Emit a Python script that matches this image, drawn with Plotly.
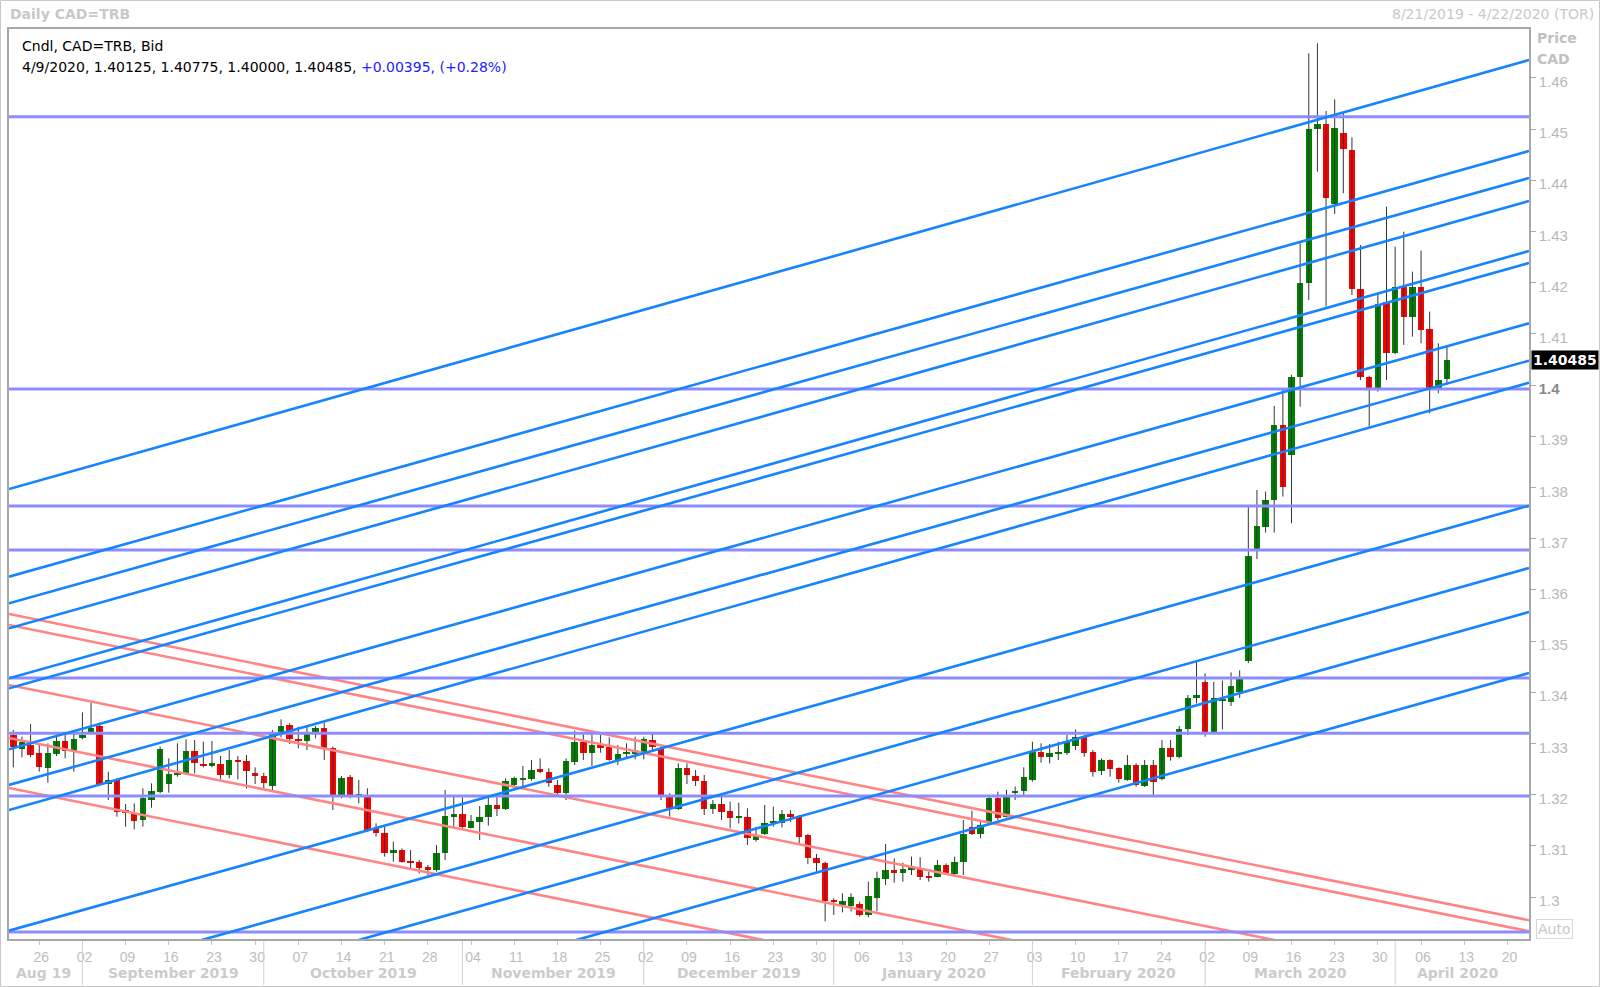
import pandas as pd
import plotly.graph_objects as go

# ---------------- data ----------------
trade_dates = pd.bdate_range("2019-08-21", "2020-04-09")  # daily bars (weekdays)

opens = [
    1.33164, 1.32884, 1.32969, 1.32819, 1.32513, 1.32793, 1.33047, 1.32858, 1.33099, 1.33229,
    1.33346, 1.32207, 1.32285, 1.31699, 1.31647, 1.31504, 1.31894, 1.32057, 1.32207, 1.32383,
    1.32415, 1.32858, 1.32597, 1.32565, 1.32597, 1.32383, 1.32676, 1.32656, 1.32428, 1.32363,
    1.32168, 1.33229, 1.33359, 1.33086, 1.33053, 1.33229, 1.33307, 1.32903, 1.31959, 1.32337,
    1.31990, 1.31959, 1.31341, 1.31243, 1.30866, 1.30918, 1.30703, 1.30677, 1.30579, 1.30527,
    1.30853, 1.31556, 1.31614, 1.31354, 1.31471, 1.31556, 1.31797, 1.31712, 1.32187, 1.32298,
    1.32298, 1.32493, 1.32448, 1.32187, 1.32025, 1.32643, 1.33034, 1.32819, 1.32969, 1.32936,
    1.32676, 1.32793, 1.32793, 1.32840, 1.33066, 1.32903, 1.31992, 1.31712, 1.32513, 1.32363,
    1.32272, 1.31712, 1.31816, 1.31686, 1.31536, 1.31569, 1.31113, 1.31230, 1.31439, 1.31439,
    1.31621, 1.31569, 1.31211, 1.30755, 1.30671, 1.29950, 1.29850, 1.29820, 1.29863, 1.29650,
    1.29974, 1.30345, 1.30527, 1.30462, 1.30527, 1.30547, 1.30410, 1.30397, 1.30625, 1.30443,
    1.30690, 1.31374, 1.31230, 1.31439, 1.31927, 1.31569, 1.32025, 1.32077, 1.32285, 1.32838,
    1.32741, 1.32806, 1.32806, 1.32949, 1.33144, 1.32838, 1.32467, 1.32676, 1.32513, 1.32285,
    1.32578, 1.32168, 1.32578, 1.32298, 1.32903, 1.32728, 1.33274, 1.33880, 1.34205, 1.33229,
    1.33834, 1.33809, 1.34009, 1.34606, 1.36759, 1.37234, 1.37755, 1.39220, 1.38634, 1.40164,
    1.41986, 1.44994, 1.45092, 1.43536, 1.44916, 1.44590, 1.41876, 1.40164, 1.39916, 1.41628,
    1.40619, 1.41921, 1.41335, 1.41921, 1.41088, 1.39936, 1.40125,
]
highs = [
    1.33261, 1.33131, 1.33379, 1.33001, 1.33001, 1.33131, 1.33196, 1.33196, 1.33607, 1.33795,
    1.33405, 1.32448, 1.32318, 1.31816, 1.31829, 1.32122, 1.32220, 1.32936, 1.32708, 1.33001,
    1.33079, 1.33066, 1.33034, 1.33047, 1.32754, 1.32871, 1.32754, 1.32773, 1.32532, 1.32428,
    1.33261, 1.33470, 1.33392, 1.33327, 1.33327, 1.33340, 1.33405, 1.32936, 1.32363, 1.32383,
    1.32285, 1.32122, 1.31439, 1.31374, 1.31081, 1.30950, 1.30918, 1.30723, 1.30625, 1.31016,
    1.32090, 1.31959, 1.31946, 1.31601, 1.31777, 1.31959, 1.32025, 1.32318, 1.32350, 1.32558,
    1.32676, 1.32708, 1.32513, 1.32285, 1.32708, 1.33248, 1.33196, 1.33183, 1.33164, 1.33118,
    1.32969, 1.33001, 1.33131, 1.33131, 1.33183, 1.32936, 1.32025, 1.32610, 1.32610, 1.32480,
    1.32383, 1.31894, 1.32025, 1.31862, 1.31842, 1.31732, 1.31374, 1.31797, 1.31764, 1.31699,
    1.31699, 1.31601, 1.31230, 1.30840, 1.30690, 1.29974, 1.30072, 1.30072, 1.29909, 1.30299,
    1.30495, 1.31035, 1.30755, 1.30671, 1.30788, 1.30775, 1.30495, 1.30723, 1.30657, 1.30788,
    1.31504, 1.31686, 1.31504, 1.31959, 1.32057, 1.32090, 1.32155, 1.32532, 1.33034, 1.33001,
    1.32988, 1.33034, 1.33164, 1.33274, 1.33164, 1.32871, 1.32708, 1.32689, 1.32532, 1.32773,
    1.32610, 1.32676, 1.32676, 1.33066, 1.33066, 1.33340, 1.33945, 1.34607, 1.34367, 1.34200,
    1.34228, 1.34387, 1.34427, 1.37625, 1.37950, 1.37918, 1.39591, 1.39936, 1.40200, 1.42768,
    1.46478, 1.46674, 1.45352, 1.45580, 1.45306, 1.44838, 1.42735, 1.40180, 1.41791, 1.43484,
    1.42702, 1.42995, 1.42214, 1.42624, 1.41433, 1.40815, 1.40775,
]
lows = [
    1.32532, 1.32728, 1.32728, 1.32448, 1.32233, 1.32754, 1.32708, 1.32448, 1.33079, 1.33229,
    1.32187, 1.31894, 1.31569, 1.31374, 1.31322, 1.31374, 1.31745, 1.32025, 1.32038, 1.32350,
    1.32383, 1.32415, 1.32532, 1.32532, 1.32298, 1.32318, 1.32298, 1.32122, 1.32207, 1.32122,
    1.32077, 1.33118, 1.32988, 1.32903, 1.32871, 1.33099, 1.32676, 1.31699, 1.31927, 1.31927,
    1.31829, 1.31276, 1.31178, 1.30788, 1.30690, 1.30671, 1.30527, 1.30462, 1.30430, 1.30495,
    1.30723, 1.31374, 1.31341, 1.31341, 1.31113, 1.31393, 1.31582, 1.31699, 1.32168, 1.32155,
    1.32272, 1.32415, 1.32155, 1.31992, 1.31894, 1.32578, 1.32676, 1.32558, 1.32819, 1.32660,
    1.32578, 1.32708, 1.32689, 1.32689, 1.32871, 1.31894, 1.31569, 1.31699, 1.32207, 1.32168,
    1.31601, 1.31621, 1.31504, 1.31341, 1.31439, 1.31016, 1.31081, 1.31211, 1.31374, 1.31361,
    1.31471, 1.31048, 1.30644, 1.30495, 1.29525, 1.29650, 1.29700, 1.29720, 1.29620, 1.29605,
    1.29720, 1.30234, 1.30280, 1.30299, 1.30430, 1.30332, 1.30299, 1.30384, 1.30449, 1.30430,
    1.30430, 1.31211, 1.31146, 1.31426, 1.31504, 1.31550, 1.31894, 1.31959, 1.32252, 1.32624,
    1.32610, 1.32676, 1.32773, 1.32871, 1.32741, 1.32350, 1.32383, 1.32350, 1.32233, 1.32270,
    1.32155, 1.32150, 1.31992, 1.32280, 1.32663, 1.32708, 1.33164, 1.33782, 1.33131, 1.33196,
    1.33274, 1.33730, 1.33889, 1.34567, 1.36600, 1.37120, 1.37120, 1.37820, 1.37299, 1.39578,
    1.41661, 1.44167, 1.41531, 1.43340, 1.43744, 1.41759, 1.40098, 1.39187, 1.39871, 1.40098,
    1.40600, 1.40782, 1.40945, 1.40815, 1.39447, 1.39838, 1.40000,
]
closes = [
    1.32936, 1.33034, 1.32773, 1.32532, 1.32806, 1.33047, 1.32858, 1.33079, 1.33164, 1.33294,
    1.32207, 1.32285, 1.31654, 1.31647, 1.31491, 1.31927, 1.32077, 1.32884, 1.32396, 1.32415,
    1.32858, 1.32610, 1.32571, 1.32610, 1.32383, 1.32676, 1.32650, 1.32461, 1.32363, 1.32233,
    1.33229, 1.33340, 1.33079, 1.33053, 1.33196, 1.33307, 1.32903, 1.31992, 1.32318, 1.31959,
    1.32010, 1.31308, 1.31256, 1.30853, 1.30918, 1.30690, 1.30671, 1.30560, 1.30540, 1.30866,
    1.31582, 1.31614, 1.31374, 1.31484, 1.31556, 1.31797, 1.31712, 1.32265, 1.32318, 1.32318,
    1.32480, 1.32448, 1.32220, 1.32025, 1.32663, 1.33034, 1.32806, 1.32969, 1.32903, 1.32676,
    1.32793, 1.32819, 1.32871, 1.33079, 1.32936, 1.31992, 1.31732, 1.32513, 1.32383, 1.32272,
    1.31712, 1.31810, 1.31667, 1.31536, 1.31582, 1.31146, 1.31211, 1.31452, 1.31491, 1.31621,
    1.31556, 1.31178, 1.30755, 1.30657, 1.29923, 1.29900, 1.29920, 1.30006, 1.29644, 1.30020,
    1.30365, 1.30527, 1.30475, 1.30547, 1.30592, 1.30397, 1.30384, 1.30625, 1.30475, 1.30690,
    1.31230, 1.31230, 1.31406, 1.31927, 1.31536, 1.31959, 1.32077, 1.32350, 1.32838, 1.32728,
    1.32806, 1.32819, 1.33034, 1.33131, 1.32819, 1.32448, 1.32676, 1.32493, 1.32298, 1.32578,
    1.32187, 1.32578, 1.32252, 1.32903, 1.32728, 1.33274, 1.33880, 1.33945, 1.33229, 1.33880,
    1.33860, 1.34128, 1.34268, 1.36659, 1.37247, 1.37755, 1.39220, 1.38015, 1.40164, 1.41986,
    1.44994, 1.45092, 1.43646, 1.45027, 1.44610, 1.41876, 1.40164, 1.39916, 1.41583, 1.40632,
    1.41921, 1.41335, 1.41921, 1.41075, 1.39936, 1.40090, 1.40485,
]

# drawn trend lines: price at the left edge (2019-08-21) and right edge (2020-04-23)
LINE_START = "2019-08-21 00:00"
LINE_END = "2020-04-23 00:00"
blue_start = [1.37969, 1.36256, 1.35736, 1.35248, 1.34271, 1.34076, 1.32885,
              1.32188, 1.31699, 1.29342, 1.28105, 1.27246, 1.26055]
blue_end = [1.46348, 1.44570, 1.44043, 1.43594, 1.42617, 1.42383, 1.41205,
            1.40475, 1.40045, 1.37643, 1.36426, 1.35566, 1.34375]
red_start = [1.35527, 1.35313, 1.34141, 1.33105, 1.32129]
red_end = [1.29545, 1.29330, 1.28158, 1.27123, 1.26146]
level_lines = [1.4524, 1.3992, 1.37637, 1.36777, 1.34277, 1.3320, 1.31973, 1.29316]

# axis labels
price_ticks = [1.30, 1.31, 1.32, 1.33, 1.34, 1.35, 1.36, 1.37, 1.38, 1.39,
               1.40, 1.41, 1.42, 1.43, 1.44, 1.45, 1.46]
price_tick_text = ["1.3", "1.31", "1.32", "1.33", "1.34", "1.35", "1.36", "1.37", "1.38", "1.39",
                   "<b><span style='color:#8a8a8a'>1.4</span></b>", "1.41", "1.42", "1.43",
                   "1.44", "1.45", "1.46"]
week_ticks = pd.date_range("2019-08-26", "2020-04-20", freq="7D") + pd.Timedelta(hours=12)
week_tick_text = [d.strftime("%d") for d in week_ticks]
month_names = ["Aug 19", "September 2019", "October 2019", "November 2019", "December 2019",
               "January 2020", "February 2020", "March 2020", "April 2020"]
month_label_pos = ["2019-08-27 00:00", "2019-09-17 00:00", "2019-10-17 00:00", "2019-11-18 00:00",
                   "2019-12-17 12:00", "2020-01-17 00:00", "2020-02-17 12:00", "2020-03-17 12:00",
                   "2020-04-10 18:00"]
month_starts = ["2019-09-02 12:00", "2019-10-01 12:00", "2019-11-01 12:00", "2019-12-02 12:00",
                "2020-01-01 12:00", "2020-02-03 12:00", "2020-03-02 12:00", "2020-04-01 12:00"]

# ---------------- figure ----------------
W, H = 1600, 987
ML, MR, MT, MB = 9, 71, 29, 48
PW, PH = W - ML - MR, H - MT - MB

x_c = trade_dates + pd.Timedelta(hours=12)
DAY_MS = 86400000

fig = go.Figure()

# wicks
wx, wy = [], []
for d, lo, hi in zip(x_c, lows, highs):
    wx += [d, d, None]
    wy += [lo, hi, None]
fig.add_trace(go.Scatter(x=wx, y=wy, mode="lines", line=dict(color="#333333", width=1),
                         hoverinfo="skip"))

# bodies
body_base = [min(o, c) for o, c in zip(opens, closes)]
body_len = [abs(c - o) for o, c in zip(opens, closes)]
body_col = ["#008000" if c >= o else "#ff0000" for o, c in zip(opens, closes)]
fig.add_trace(go.Bar(x=x_c, y=body_len, base=body_base, width=0.74 * DAY_MS,
                     marker=dict(color=body_col, line=dict(width=0)), hoverinfo="skip"))


def segments(starts, ends, color, width):
    xs, ys = [], []
    for a, b in zip(starts, ends):
        xs += [LINE_START, LINE_END, None]
        ys += [a, b, None]
    return go.Scatter(x=xs, y=ys, mode="lines", line=dict(color=color, width=width),
                      hoverinfo="skip")


fig.add_trace(segments(red_start, red_end, "#ff8484", 2.6))
fig.add_trace(segments(level_lines, level_lines, "#8c8cff", 3))
fig.add_trace(segments(blue_start, blue_end, "#1683ff", 2.6))


def px_x(px):
    return (px - ML) / PW


def px_y(py):
    return (H - MB - py) / PH


annotations = [
    dict(text="<b>Daily CAD=TRB</b>", x=px_x(8), y=px_y(14), xanchor="left", yanchor="middle",
         font=dict(family="DejaVu Sans", size=14, color="#c8c8c8"), showarrow=False),
    dict(text="8/21/2019 - 4/22/2020 (TOR)", x=px_x(1596), y=px_y(14), xanchor="right",
         yanchor="middle", font=dict(family="DejaVu Sans", size=14, color="#c8c8c8"),
         showarrow=False),
    dict(text="Cndl, CAD=TRB, Bid", x=px_x(20), y=px_y(46), xanchor="left", yanchor="middle",
         font=dict(family="DejaVu Sans", size=14, color="#000000"), showarrow=False),
    dict(text="4/9/2020, 1.40125, 1.40775, 1.40000, 1.40485, "
              "<span style='color:#2020ff'>+0.00395, (+0.28%)</span>",
         x=px_x(20), y=px_y(67), xanchor="left", yanchor="middle",
         font=dict(family="DejaVu Sans", size=14, color="#000000"), showarrow=False),
    dict(text="<b>Price</b>", x=px_x(1535), y=px_y(38), xanchor="left", yanchor="middle",
         font=dict(family="DejaVu Sans", size=14, color="#c0c0c0"), showarrow=False),
    dict(text="<b>CAD</b>", x=px_x(1535), y=px_y(59), xanchor="left", yanchor="middle",
         font=dict(family="DejaVu Sans", size=14, color="#c0c0c0"), showarrow=False),
    dict(text="<b>%.5f</b>" % closes[-1], x=px_x(1531), y=closes[-1], yref="y",
         xanchor="left", yanchor="middle", bgcolor="#000000", borderpad=1,
         font=dict(family="DejaVu Sans", size=14, color="#ffffff"), showarrow=False),
    dict(text="Auto", x=px_x(1536), y=px_y(929), xanchor="left", yanchor="middle",
         bordercolor="#d8d8d8", borderwidth=1, borderpad=1,
         font=dict(family="DejaVu Sans", size=14, color="#c8c8c8"), showarrow=False),
]
for name, pos in zip(month_names, month_label_pos):
    annotations.append(dict(text="<b>%s</b>" % name, x=pos, xref="x", y=px_y(973), yref="paper",
                            xanchor="center", yanchor="middle", showarrow=False,
                            font=dict(family="DejaVu Sans", size=14, color="#cbcbcb")))
for a in annotations:
    a.setdefault("xref", "paper")
    a.setdefault("yref", "paper")

shapes = []
for d in month_starts:
    shapes.append(dict(type="line", xref="x", yref="paper", x0=d, x1=d,
                       y0=px_y(941), y1=px_y(985), line=dict(color="#d0d0d0", width=1)))
shapes.append(dict(type="rect", xref="paper", yref="paper", x0=px_x(0.5), x1=px_x(1599.5),
                   y0=px_y(986.5), y1=px_y(0.5), line=dict(color="#c8c8c8", width=1)))

fig.update_layout(
    width=W, height=H, margin=dict(l=ML, r=MR, t=MT, b=MB, autoexpand=False),
    paper_bgcolor="white", plot_bgcolor="white", showlegend=False, hovermode=False,
    annotations=annotations, shapes=shapes, bargap=0,
)
fig.update_xaxes(
    type="date", range=[LINE_START, LINE_END], rangebreaks=[dict(bounds=["sat", "mon"])],
    tickmode="array", tickvals=list(week_ticks), ticktext=week_tick_text,
    ticks="outside", ticklen=4, tickcolor="#c8c8c8", ticklabelshift=2,
    tickfont=dict(family="Liberation Sans", size=14, color="#bdbdbd"),
    showgrid=False, zeroline=False, showline=True, mirror=True,
    linecolor="#a8a8a8", linewidth=1.5,
)
fig.update_yaxes(
    side="right", range=[1.291797, 1.469531], tickmode="array",
    tickvals=price_ticks, ticktext=price_tick_text,
    ticks="outside", ticklen=5, tickcolor="#a8a8a8", ticklabelshift=4,
    tickfont=dict(family="Liberation Sans", size=15, color="#b8b8b8"),
    showgrid=False, zeroline=False, showline=True, mirror=True,
    linecolor="#a8a8a8", linewidth=1.5,
)

fig.write_html("out.html", config={"displayModeBar": False},
               post_script="document.body.style.margin='0';"
                           "document.body.style.overflow='hidden';")
